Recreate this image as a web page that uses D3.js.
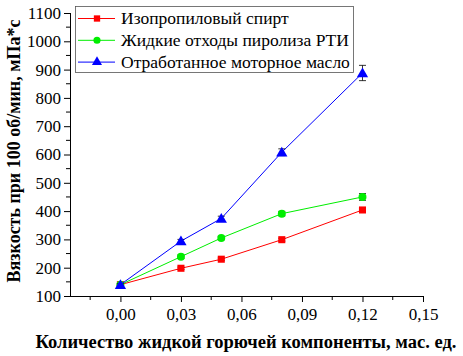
<!DOCTYPE html>
<html>
<head>
<meta charset="utf-8">
<script src="https://cdn.jsdelivr.net/npm/d3@7"></script>
</head>
<body style="margin:0; background:#fff">
<svg id="chart" width="463" height="356"></svg>
<script>
// data
const xValues = [0, 0.03, 0.05, 0.08, 0.12];
const isopropanol = [140, 198, 230, 299, 404];
const pyrolysisWaste = [140, 239, 305, 391, 450];
const motorOil = [140, 294, 374, 608, 888];
const isopropanolErr = [3, 4, 4, 5, 5];
const pyrolysisErr = [3, 6, 6, 8, 12];
const motorOilErr = [3, 6, 8, 12, 27];
const seriesNames = ["Изопропиловый спирт", "Жидкие отходы пиролиза РТИ", "Отработанное моторное масло"];
const xTicks = [0, 0.03, 0.06, 0.09, 0.12, 0.15];
const yTicks = [100, 200, 300, 400, 500, 600, 700, 800, 900, 1000, 1100];

const svg = d3.select("#chart");
const margins = { top: 13, right: 40, bottom: 60, left: 70 };
const serif = "'Liberation Serif'";

const x = d3.scaleLinear().domain([-0.025, 0.15]).range([margins.left, 423]);
const y = d3.scaleLinear().domain([100, 1100]).range([296, 13]);

const series = [
  { name: seriesNames[0], vals: isopropanol, err: isopropanolErr, color: "#ff0000", shape: d3.symbolSquare, size: 50 },
  { name: seriesNames[1], vals: pyrolysisWaste, err: pyrolysisErr, color: "#00ee00", shape: d3.symbolCircle, size: 50 },
  { name: seriesNames[2], vals: motorOil, err: motorOilErr, color: "#0000ff", shape: d3.symbolTriangle, size: 55 }
];

// minor ticks
const xMinor = d3.range(-0.015, 0.151, 0.015).filter(v => Math.abs(Math.round(v / 0.03) * 0.03 - v) > 1e-6);
svg.append("g").selectAll("line").data(xMinor).join("line")
  .attr("x1", d => x(d)).attr("x2", d => x(d))
  .attr("y1", 296).attr("y2", 300)
  .attr("stroke", "#000");
const yMinor = d3.range(150, 1100, 100);
svg.append("g").selectAll("line").data(yMinor).join("line")
  .attr("y1", d => y(d)).attr("y2", d => y(d))
  .attr("x1", margins.left).attr("x2", margins.left - 4)
  .attr("stroke", "#000");

// axes
const xAxis = svg.append("g")
  .attr("transform", `translate(0,296)`)
  .call(d3.axisBottom(x).tickValues(xTicks).tickSize(6).tickPadding(6)
    .tickFormat(d => d3.format(".2f")(d).replace(".", ",")));
xAxis.select(".domain").attr("d", `M${margins.left},0.5H423`);
xAxis.selectAll("text").attr("font-size", 17).style("font-family", serif);

const yAxis = svg.append("g")
  .attr("transform", `translate(${margins.left},0)`)
  .call(d3.axisLeft(y).tickValues(yTicks).tickSize(6).tickPadding(3).tickFormat(d3.format("d")));
yAxis.select(".domain").attr("d", `M0.5,${y(100)}V${y(1100)}`);
yAxis.selectAll("text").attr("font-size", 17).style("font-family", serif);

// axis titles
svg.append("text")
  .attr("x", 246).attr("y", 348)
  .attr("text-anchor", "middle")
  .attr("font-weight", "bold")
  .attr("font-size", 18.5)
  .style("font-family", serif)
  .text("Количество жидкой горючей компоненты, мас. ед.");

svg.append("text")
  .attr("transform", `translate(20,151) rotate(-90)`)
  .attr("text-anchor", "middle")
  .attr("font-weight", "bold")
  .attr("font-size", 18)
  .style("font-family", serif)
  .text("Вязкость при 100 об/мин, мПа*с");

// lines, error bars, markers
const line = d3.line().x(d => x(d[0])).y(d => y(d[1]));
series.forEach(s => {
  const pts = xValues.map((xv, i) => [xv, s.vals[i], s.err[i]]);
  const g = svg.append("g");
  g.append("path")
    .datum(pts)
    .attr("d", line)
    .attr("fill", "none")
    .attr("stroke", s.color)
    .attr("stroke-width", 1);
  const eb = g.selectAll(".eb").data(pts).join("g").attr("class", "eb");
  eb.append("line")
    .attr("x1", d => x(d[0])).attr("x2", d => x(d[0]))
    .attr("y1", d => y(d[1] - d[2])).attr("y2", d => y(d[1] + d[2]))
    .attr("stroke", "#000").attr("stroke-width", 0.8);
  [1, -1].forEach(sg => {
    eb.append("line")
      .attr("x1", d => x(d[0]) - 3.5).attr("x2", d => x(d[0]) + 3.5)
      .attr("y1", d => y(d[1] + sg * d[2])).attr("y2", d => y(d[1] + sg * d[2]))
      .attr("stroke", "#000").attr("stroke-width", 0.8);
  });
  g.selectAll(".mk").data(pts).join("path")
    .attr("class", "mk")
    .attr("transform", d => `translate(${x(d[0])},${y(d[1]) + (s.shape === d3.symbolTriangle ? 1 : 0)})`)
    .attr("d", d3.symbol().type(s.shape).size(s.size))
    .attr("fill", s.color);
});

// legend
const legend = svg.append("g");
legend.append("rect")
  .attr("x", 75.5).attr("y", 6.5)
  .attr("width", 278).attr("height", 66)
  .attr("fill", "#fff").attr("stroke", "#555").attr("stroke-width", 0.8);
series.forEach((s, i) => {
  const ly = 18.5 + i * 21.8;
  legend.append("line")
    .attr("x1", 78).attr("x2", 115).attr("y1", ly).attr("y2", ly)
    .attr("stroke", s.color).attr("stroke-width", 1);
  legend.append("path")
    .attr("transform", `translate(97,${ly})`)
    .attr("d", d3.symbol().type(s.shape).size(s.size * 0.8))
    .attr("fill", s.color);
  legend.append("text")
    .attr("x", 121).attr("y", ly + 5.5)
    .attr("font-size", 17.5)
    .style("font-family", serif)
    .text(s.name);
});
</script>
</body>
</html>
